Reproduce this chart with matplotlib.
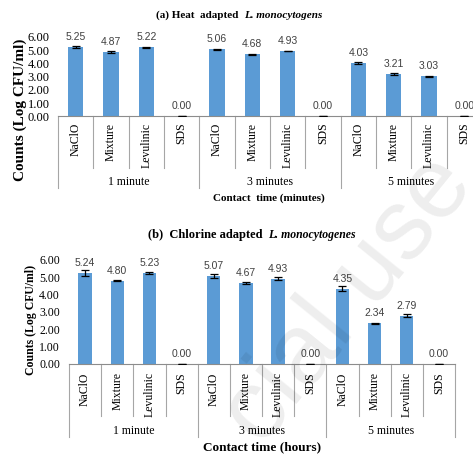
import matplotlib
matplotlib.use("Agg")
import matplotlib.pyplot as plt
import matplotlib.transforms as mtransforms

# ---- data ----
groups = ["1 minute", "3 minutes", "5 minutes"]
treatments = ["NaClO", "Mixture", "Levulinic", "SDS"]

heat_counts = [5.25, 4.87, 5.22, 0.00,
               5.06, 4.68, 4.93, 0.00,
               4.03, 3.21, 3.03, 0.00]
heat_err = [0.08, 0.07, 0.02, 0.0,
            0.06, 0.06, 0.02, 0.0,
            0.06, 0.07, 0.02, 0.0]

chlorine_counts = [5.24, 4.80, 5.23, 0.00,
                   5.07, 4.67, 4.93, 0.00,
                   4.35, 2.34, 2.79, 0.00]
chlorine_err = [0.17, 0.02, 0.06, 0.0,
                0.13, 0.05, 0.07, 0.0,
                0.15, 0.02, 0.07, 0.0]

yticks = [0, 1, 2, 3, 4, 5, 6]

W, H = 473, 457
BAR = "#5B9BD5"
AXIS = "#8c8c8c"
SEP = "#a6a6a6"
SERIF = ["Liberation Serif", "DejaVu Serif"]
SANS = ["Liberation Sans Narrow", "Liberation Sans", "DejaVu Sans"]

fig = plt.figure(figsize=(W / 100, H / 100), dpi=100)
fig.patch.set_facecolor("white")


def px(x0, y0, x1, y1):
    """Pixel box (left, top, right, bottom) -> figure fraction rect."""
    return [x0 / W, 1 - y1 / H, (x1 - x0) / W, (y1 - y0) / H]


def panel(rect, counts, err, tick_fs, tick_pad, cat_fs, cat_pad, val_fs,
          cat_bottom, grp_bottom, grp_y, grp_fs, bar_w):
    ax = fig.add_axes(rect)
    x = list(range(len(counts)))
    ax.bar(x, counts, width=bar_w, color=BAR, zorder=2)
    ax.errorbar(x, counts, yerr=err, fmt="none", ecolor="black",
                elinewidth=0.9, capsize=2.6, capthick=0.9, zorder=3)
    for xi, v in zip(x, counts):
        ax.annotate(f"{v:.2f}", (xi, v), xytext=(0, 7.2),
                    textcoords="offset points", ha="center", va="center",
                    fontsize=val_fs, color="#404040", family=SANS)

    ax.set_xlim(-0.5, len(counts) - 0.5)
    ax.set_ylim(0, 6)
    ax.set_yticks(yticks)
    ax.set_yticklabels([f"{t:.2f}" for t in yticks], family=SERIF,
                       fontsize=tick_fs)
    ax.tick_params(axis="y", length=0, pad=tick_pad)
    ax.set_xticks(x)
    ax.set_xticklabels(treatments * len(groups), rotation=90, family=SERIF,
                       fontsize=cat_fs, va="top", ha="center")
    ax.tick_params(axis="x", length=0, pad=cat_pad)
    for s in ("top", "right", "left"):
        ax.spines[s].set_visible(False)
    ax.spines["bottom"].set_color(AXIS)
    ax.spines["bottom"].set_linewidth(0.8)

    # category / group divider lines below the axis
    tr = mtransforms.blended_transform_factory(ax.transData, fig.transFigure)
    n = len(treatments)
    for k in range(len(counts) + 1):
        xb = k - 0.5
        yb = grp_bottom if k % n == 0 else cat_bottom
        ax.plot([xb, xb], [rect[1], 1 - yb / H], color=SEP, lw=0.8,
                transform=tr, clip_on=False)
    for g, name in enumerate(groups):
        ax.text(g * n + (n - 1) / 2, 1 - grp_y / H, name, transform=tr,
                ha="center", va="center", family=SERIF, fontsize=grp_fs)
    return ax


# faint diagonal watermark
fig.text(262 / W, 1 - 448 / H, "cial use", rotation=51, ha="left",
         va="baseline", rotation_mode="anchor", family=["Liberation Sans"],
         fontsize=72, color="#000000", alpha=0.07, zorder=10)

# (a) heat adapted
ax_a = panel(px(58, 37, 482, 116.5), heat_counts, heat_err,
             tick_fs=9, tick_pad=6, cat_fs=8.5, cat_pad=4.5, val_fs=7.5,
             cat_bottom=168, grp_bottom=188, grp_y=182, grp_fs=8.5,
             bar_w=0.43)
fig.text(238 / W, 1 - 15 / H, "(a) Heat  adapted", ha="right", va="center",
         family=SERIF, fontweight="bold", fontsize=8)
fig.text(244 / W, 1 - 15 / H, "L. monocytogens", ha="left", va="center",
         family=SERIF, fontweight="bold", style="italic", fontsize=8)
fig.text(20 / W, 1 - 110 / H, "Counts (Log CFU/ml)", rotation=90,
         ha="center", va="center", family=SERIF, fontweight="bold",
         fontsize=11)
fig.text(269 / W, 1 - 198 / H, "Contact  time (minutes)", ha="center",
         va="center", family=SERIF, fontweight="bold", fontsize=8)

# (b) chlorine adapted
ax_b = panel(px(69, 260, 455, 364), chlorine_counts, chlorine_err,
             tick_fs=8.5, tick_pad=6.5, cat_fs=8.5, cat_pad=6, val_fs=7.5,
             cat_bottom=416, grp_bottom=437, grp_y=431, grp_fs=8.5,
             bar_w=0.41)
fig.text(262 / W, 1 - 235 / H, "(b)  Chlorine adapted", ha="right",
         va="center", family=SERIF, fontweight="bold", fontsize=9)
fig.text(268 / W, 1 - 235 / H, "L. monocytogenes", ha="left", va="center",
         family=SERIF, fontweight="bold", style="italic", fontsize=8.5)
fig.text(31 / W, 1 - 320 / H, "Counts (Log CFU/ml)", rotation=90,
         ha="center", va="center", family=SERIF, fontweight="bold",
         fontsize=8.5)
fig.text(262 / W, 1 - 447 / H, "Contact time (hours)", ha="center",
         va="center", family=SERIF, fontweight="bold", fontsize=9.5)

fig.savefig("out.png", dpi=100, facecolor="white")
